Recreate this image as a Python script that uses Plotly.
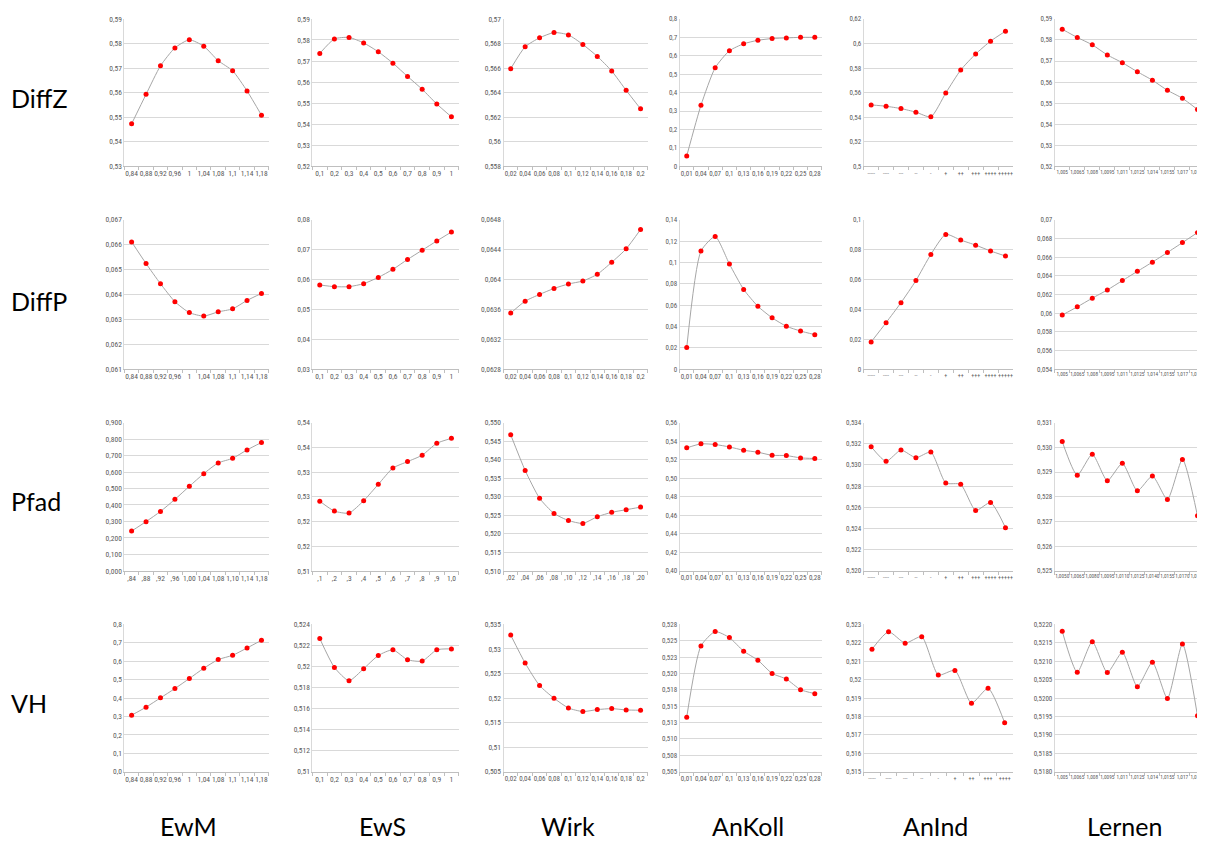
import plotly.graph_objects as go
from decimal import Decimal, ROUND_HALF_UP

W, H = 1205, 846          # browser window
OFF = 8                   # default page margin that the html body adds
FW, FH = W - OFF, H - OFF # figure size so that it fills the window up to its right/bottom edge

row_names = ["DiffZ", "DiffP", "Pfad", "VH"]
col_names = ["EwM", "EwS", "Wirk", "AnKoll", "AnInd", "Lernen"]

# ---- category labels ----
ewm_cats = ["0,84", "0,88", "0,92", "0,96", "1", "1,04", "1,08", "1,1", "1,14", "1,18"]
ewm_cats_pfad = [",84", ",88", ",92", ",96", "1,00", "1,04", "1,08", "1,10", "1,14", "1,18"]
ews_cats = ["0,1", "0,2", "0,3", "0,4", "0,5", "0,6", "0,7", "0,8", "0,9", "1"]
ews_cats_pfad = [",1", ",2", ",3", ",4", ",5", ",6", ",7", ",8", ",9", "1,0"]
wirk_cats = ["0,02", "0,04", "0,06", "0,08", "0,1", "0,12", "0,14", "0,16", "0,18", "0,2"]
wirk_cats_pfad = [",02", ",04", ",06", ",08", ",10", ",12", ",14", ",16", ",18", ",20"]
ankoll_cats = ["0,01", "0,04", "0,07", "0,1", "0,13", "0,16", "0,19", "0,22", "0,25", "0,28"]
anind_cats = ["-----", "----", "---", "--", "-", "+", "++", "+++", "++++", "+++++"]
anind_cats_vh = ["-----", "----", "---", "--", "-", "+", "++", "+++", "++++"]
lernen_cats = ["1,005", "1,0065", "1,008", "1,0095", "1,011", "1,0125", "1,014", "1,0155", "1,017", "1,0185"]
lernen_cats_pfad = ["1,0050", "1,0065", "1,0080", "1,0095", "1,0110", "1,0125", "1,0140", "1,0155", "1,0170", "1,0185"]

# ---- series values ----
diffz_ewm = [0.5473, 0.5593, 0.5709, 0.5782, 0.5815, 0.5789, 0.5730, 0.5689, 0.5607, 0.5508]
diffz_ews = [0.5736, 0.5805, 0.5812, 0.5786, 0.5744, 0.5690, 0.5627, 0.5566, 0.5496, 0.5435]
diffz_wirk = [0.56595, 0.56773, 0.56846, 0.56889, 0.56870, 0.56792, 0.56695, 0.56576, 0.56419, 0.56268]
diffz_ankoll = [0.056, 0.331, 0.535, 0.627, 0.665, 0.684, 0.6935, 0.697, 0.700, 0.700]
diffz_anind = [0.5500, 0.5489, 0.5470, 0.5441, 0.5403, 0.5597, 0.5784, 0.5914, 0.6019, 0.6100]
diffz_lernen = [0.5851, 0.5812, 0.5777, 0.5729, 0.5692, 0.5649, 0.5609, 0.5561, 0.5523, 0.5470]

diffp_ewm = [0.06611, 0.06524, 0.06443, 0.06371, 0.06327, 0.06313, 0.06330, 0.06342, 0.06376, 0.06404]
diffp_ews = [0.05817, 0.0576, 0.0576, 0.0586, 0.0607, 0.0634, 0.0667, 0.0698, 0.0729, 0.0759]
diffp_wirk = [0.06355, 0.06371, 0.06380, 0.06388, 0.06394, 0.06398, 0.06407, 0.06423, 0.06441, 0.06467]
diffp_ankoll = [0.0202, 0.1106, 0.1242, 0.0985, 0.0747, 0.0589, 0.0481, 0.0402, 0.0357, 0.0323]
diffp_anind = [0.0182, 0.0311, 0.0445, 0.0593, 0.0768, 0.0902, 0.0864, 0.0830, 0.0791, 0.0757]
diffp_lernen = [0.05979, 0.06067, 0.06160, 0.06248, 0.06348, 0.06447, 0.06546, 0.06649, 0.06755, 0.06862]

pfad_ewm = [0.242, 0.299, 0.361, 0.434, 0.513, 0.590, 0.655, 0.683, 0.734, 0.779]
pfad_ews = [0.5241, 0.5221, 0.5217, 0.5242, 0.5275, 0.5308, 0.5321, 0.5334, 0.5358, 0.5368]
pfad_wirk = [0.5467, 0.5371, 0.5296, 0.5255, 0.5236, 0.5228, 0.5246, 0.5258, 0.5265, 0.5272]
pfad_ankoll = [0.5327, 0.5370, 0.5363, 0.5337, 0.5301, 0.5280, 0.5247, 0.5244, 0.5219, 0.5212]
pfad_anind = [0.53172, 0.53034, 0.53140, 0.53068, 0.53121, 0.52830, 0.52817, 0.52570, 0.52645, 0.52408]
pfad_lernen = [0.53023, 0.52887, 0.52972, 0.52865, 0.52935, 0.52824, 0.52884, 0.52789, 0.52951, 0.52723]

vh_ewm = [0.307, 0.3505, 0.401, 0.4516, 0.5058, 0.5617, 0.6087, 0.6321, 0.6718, 0.7134]
vh_ews = [0.52265, 0.51991, 0.51865, 0.51979, 0.52104, 0.52158, 0.52064, 0.52051, 0.52158, 0.52167]
vh_wirk = [0.53281, 0.52712, 0.52255, 0.51997, 0.51798, 0.51725, 0.51765, 0.51785, 0.51758, 0.51752]
vh_ankoll = [0.51333, 0.5242, 0.52639, 0.52548, 0.5234, 0.52203, 0.52001, 0.51915, 0.51753, 0.51692]
vh_anind = [0.52165, 0.5226, 0.52198, 0.52233, 0.52025, 0.5205, 0.51872, 0.51953, 0.51766]
vh_lernen = [0.52181, 0.52070, 0.52153, 0.52069, 0.52124, 0.52031, 0.52097, 0.51999, 0.52147, 0.51952]

grid_cats = [
    [ewm_cats, ews_cats, wirk_cats, ankoll_cats, anind_cats, lernen_cats],
    [ewm_cats, ews_cats, wirk_cats, ankoll_cats, anind_cats, lernen_cats],
    [ewm_cats_pfad, ews_cats_pfad, wirk_cats_pfad, ankoll_cats, anind_cats, lernen_cats_pfad],
    [ewm_cats, ews_cats, wirk_cats, ankoll_cats, anind_cats_vh, lernen_cats],
]
grid_vals = [
    [diffz_ewm, diffz_ews, diffz_wirk, diffz_ankoll, diffz_anind, diffz_lernen],
    [diffp_ewm, diffp_ews, diffp_wirk, diffp_ankoll, diffp_anind, diffp_lernen],
    [pfad_ewm, pfad_ews, pfad_wirk, pfad_ankoll, pfad_anind, pfad_lernen],
    [vh_ewm, vh_ews, vh_wirk, vh_ankoll, vh_anind, vh_lernen],
]
# y axis: (min, max, step, format) format 'g' = general, int = fixed decimals
grid_yaxis = [
    [(0.53, 0.59, 0.01, 'g'), (0.52, 0.59, 0.01, 'g'), (0.558, 0.57, 0.002, 'g'),
     (0.0, 0.8, 0.1, 'g'), (0.5, 0.62, 0.02, 'g'), (0.52, 0.59, 0.01, 'g')],
    [(0.061, 0.067, 0.001, 'g'), (0.03, 0.08, 0.01, 'g'), (0.0628, 0.0648, 0.0004, 'g'),
     (0.0, 0.14, 0.02, 'g'), (0.0, 0.1, 0.02, 'g'), (0.054, 0.07, 0.002, 'g')],
    [(0.0, 0.9, 0.1, 3), (0.51, 0.54, 0.005, 2), (0.51, 0.55, 0.005, 3),
     (0.40, 0.56, 0.02, 2), (0.520, 0.534, 0.002, 3), (0.525, 0.531, 0.001, 3)],
    [(0.0, 0.8, 0.1, 1), (0.51, 0.524, 0.002, 'g'), (0.505, 0.535, 0.005, 'g'),
     (0.505, 0.5275, 0.0025, 3), (0.515, 0.523, 0.001, 'g'), (0.518, 0.522, 0.0005, 4)],
]

# ---- layout geometry (window pixels) ----
col_px = [(125, 270), (314, 461), (506, 651), (683, 826), (868, 1018), (1060, 1205)]
row_px = [(15, 164), (218, 369), (423, 573), (627, 776)]
FULL_RIGHT = 1211  # the last panel runs a bit past the window's right edge
xtick_sizes = [7.5, 7.5, 7, 7, 6, 5.3]
ytick_sizes = [7.5, 7.5, 7.5, 7, 7, 7]

SMALL_FONT = "Liberation Sans Narrow, Arial Narrow, Roboto Condensed, Lato, sans-serif"
BIG_FONT = "Lato, Carlito, Calibri, sans-serif"


def px_x(x):
    return min(max((x - OFF) / FW, 0.0), 1.0)


def px_y(y):
    return min(max(1 - (y - OFF) / FH, 0.0), 1.0)


def fmt_tick(v, f):
    d = Decimal(str(round(v, 6)))
    if f == 'g':
        if d == 0:
            s = "0"
        else:
            s = format(d.normalize(), 'f')
    else:
        s = str(d.quantize(Decimal(1).scaleb(-f), rounding=ROUND_HALF_UP))
    return s.replace('.', ',')


fig = go.Figure()
layout = dict(
    width=FW, height=FH,
    margin=dict(l=0, r=0, t=0, b=0),
    paper_bgcolor="white", plot_bgcolor="white",
    showlegend=False,
    font=dict(family=SMALL_FONT, color="#595959"),
)

k = 0
for r in range(4):
    for c in range(6):
        k += 1
        cats = grid_cats[r][c]
        vals = grid_vals[r][c]
        ymin, ymax, step, f = grid_yaxis[r][c]
        n = int(round((ymax - ymin) / step))
        tv = [round(ymin + i * step, 6) for i in range(n + 1)]
        tt = [fmt_tick(v, f) for v in tv]
        x0, x1 = col_px[c]
        y0, y1 = row_px[r]
        ncat = len(cats)
        xr_hi = ncat - 0.5
        if c == 5:
            cat_w = (FULL_RIGHT - x0) / ncat
            xr_hi = -0.5 + (x1 - x0) / cat_w
        sx = "" if k == 1 else str(k)
        fig.add_trace(go.Scatter(
            x=cats, y=vals, mode="lines+markers",
            line=dict(color="#a6a6a6", width=1, shape="spline", smoothing=0.6),
            marker=dict(color="#ff0000", size=5),
            xaxis="x" + sx, yaxis="y" + sx, hoverinfo="skip",
        ))
        layout["xaxis" + sx] = dict(
            domain=[px_x(x0), px_x(x1)], anchor="y" + sx, type="category",
            range=[-0.5, xr_hi], showgrid=False, showline=True, linecolor="#bfbfbf",
            ticks="outside", ticklen=3, tickcolor="#bfbfbf", tickson="boundaries",
            tickangle=0, tickfont=dict(family=SMALL_FONT, size=xtick_sizes[c], color="#595959"),
            zeroline=False, fixedrange=True,
        )
        layout["yaxis" + sx] = dict(
            domain=[px_y(y1), px_y(y0)], anchor="x" + sx,
            range=[ymin, ymax], tickvals=tv, ticktext=tt, showgrid=True,
            gridcolor="#d9d9d9", gridwidth=1, showline=True, linecolor="#d9d9d9",
            ticks="", tickfont=dict(family=SMALL_FONT, size=ytick_sizes[c], color="#595959"),
            zeroline=False, fixedrange=True,
        )

annotations = []
row_y = [95, 300, 502, 707]
for name, yc in zip(row_names, row_y):
    annotations.append(dict(text=name, x=px_x(9), y=px_y(yc), xref="paper", yref="paper",
                            xanchor="left", yanchor="middle", showarrow=False,
                            font=dict(family=BIG_FONT, size=25, color="#000000")))
col_x = [189, 384, 571, 752, 940, 1130]
for name, xc in zip(col_names, col_x):
    annotations.append(dict(text=name, x=px_x(xc), y=px_y(831), xref="paper", yref="paper",
                            xanchor="center", yanchor="middle", showarrow=False,
                            font=dict(family=BIG_FONT, size=25, color="#000000")))
layout["annotations"] = annotations
fig.update_layout(**layout)
fig.write_html("out.html")
